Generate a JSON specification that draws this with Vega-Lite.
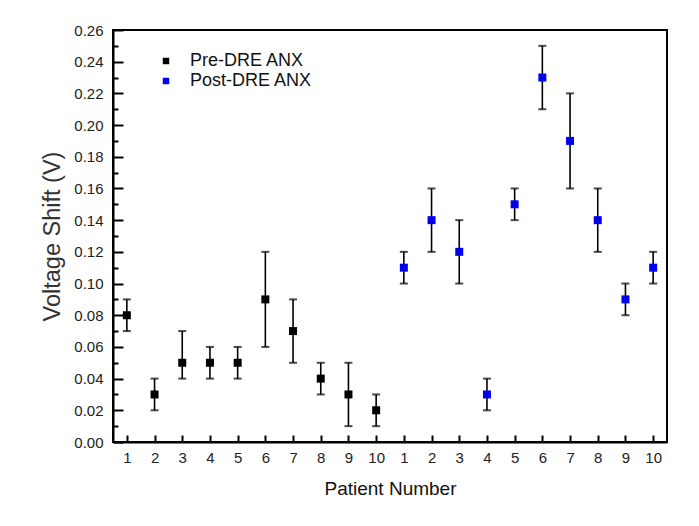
{
  "$schema": "https://vega.github.io/schema/vega-lite/v6.json",
  "width": 554,
  "height": 412,
  "autosize": {"type": "none"},
  "padding": {"left": 113, "top": 30, "right": 32, "bottom": 84},
  "background": "white",
  "config": {
    "font": "Liberation Sans",
    "view": {"stroke": "#000000", "strokeWidth": 2},
    "axis": {"grid": false, "domainColor": "#000000", "domainWidth": 2, "tickColor": "#000000", "tickWidth": 2, "labelFont": "Liberation Sans", "titleFont": "Liberation Sans", "titleFontWeight": "normal"}
  },
  "resolve": {"axis": {"x": "independent", "y": "independent"}},
  "data": {
    "values": [
      {"pos": 1, "series": "Pre-DRE ANX", "v": 0.08, "lo": 0.07, "hi": 0.09},
      {"pos": 2, "series": "Pre-DRE ANX", "v": 0.03, "lo": 0.02, "hi": 0.04},
      {"pos": 3, "series": "Pre-DRE ANX", "v": 0.05, "lo": 0.04, "hi": 0.07},
      {"pos": 4, "series": "Pre-DRE ANX", "v": 0.05, "lo": 0.04, "hi": 0.06},
      {"pos": 5, "series": "Pre-DRE ANX", "v": 0.05, "lo": 0.04, "hi": 0.06},
      {"pos": 6, "series": "Pre-DRE ANX", "v": 0.09, "lo": 0.06, "hi": 0.12},
      {"pos": 7, "series": "Pre-DRE ANX", "v": 0.07, "lo": 0.05, "hi": 0.09},
      {"pos": 8, "series": "Pre-DRE ANX", "v": 0.04, "lo": 0.03, "hi": 0.05},
      {"pos": 9, "series": "Pre-DRE ANX", "v": 0.03, "lo": 0.01, "hi": 0.05},
      {"pos": 10, "series": "Pre-DRE ANX", "v": 0.02, "lo": 0.01, "hi": 0.03},
      {"pos": 11, "series": "Post-DRE ANX", "v": 0.11, "lo": 0.10, "hi": 0.12},
      {"pos": 12, "series": "Post-DRE ANX", "v": 0.14, "lo": 0.12, "hi": 0.16},
      {"pos": 13, "series": "Post-DRE ANX", "v": 0.12, "lo": 0.10, "hi": 0.14},
      {"pos": 14, "series": "Post-DRE ANX", "v": 0.03, "lo": 0.02, "hi": 0.04},
      {"pos": 15, "series": "Post-DRE ANX", "v": 0.15, "lo": 0.14, "hi": 0.16},
      {"pos": 16, "series": "Post-DRE ANX", "v": 0.23, "lo": 0.21, "hi": 0.25},
      {"pos": 17, "series": "Post-DRE ANX", "v": 0.19, "lo": 0.16, "hi": 0.22},
      {"pos": 18, "series": "Post-DRE ANX", "v": 0.14, "lo": 0.12, "hi": 0.16},
      {"pos": 19, "series": "Post-DRE ANX", "v": 0.09, "lo": 0.08, "hi": 0.10},
      {"pos": 20, "series": "Post-DRE ANX", "v": 0.11, "lo": 0.10, "hi": 0.12}
    ]
  },
  "layer": [
    {
      "mark": {"type": "rule", "color": "#000000", "strokeWidth": 1.6},
      "encoding": {
        "x": {
          "field": "pos", "type": "quantitative",
          "scale": {"domain": [0.5, 20.5], "nice": false, "zero": false},
          "axis": {
            "orient": "bottom", "title": "Patient Number", "titleFontSize": 19, "titleColor": "#111111", "titlePadding": 14,
            "values": [1,2,3,4,5,6,7,8,9,10,11,12,13,14,15,16,17,18,19,20],
            "labelExpr": "datum.value > 10 ? datum.value - 10 : datum.value",
            "labelFontSize": 15, "labelColor": "#222222", "labelPadding": 8, "labelOverlap": false,
            "ticks": false
          }
        },
        "y": {
          "field": "lo", "type": "quantitative",
          "scale": {"domain": [0, 0.26], "nice": false},
          "axis": {
            "orient": "left", "title": "Voltage Shift (V)", "titleFontSize": 23.5, "titleColor": "#333333", "titlePadding": 9,
            "values": [0,0.02,0.04,0.06,0.08,0.1,0.12,0.14,0.16,0.18,0.2,0.22,0.24,0.26],
            "format": ".2f",
            "labelFontSize": 15, "labelColor": "#222222", "labelPadding": 10, "labelOverlap": false,
            "ticks": false
          }
        },
        "y2": {"field": "hi"}
      }
    },
    {
      "mark": {"type": "tick", "orient": "horizontal", "color": "#000000", "size": 8, "thickness": 2},
      "encoding": {
        "x": {
          "field": "pos", "type": "quantitative",
          "axis": {
            "orient": "bottom", "offset": -7, "tickSize": 7, "labels": false, "domain": false, "title": null,
            "values": [1,2,3,4,5,6,7,8,9,10,11,12,13,14,15,16,17,18,19,20]
          }
        },
        "y": {
          "field": "lo", "type": "quantitative",
          "axis": {
            "orient": "left", "offset": -5, "tickSize": 5, "labels": false, "domain": false, "title": null,
            "values": [0.01,0.03,0.05,0.07,0.09,0.11,0.13,0.15,0.17,0.19,0.21,0.23,0.25]
          }
        }
      }
    },
    {
      "mark": {"type": "tick", "orient": "horizontal", "color": "#000000", "size": 8, "thickness": 2},
      "encoding": {
        "x": {"field": "pos", "type": "quantitative", "axis": null},
        "y": {
          "field": "hi", "type": "quantitative",
          "axis": {
            "orient": "left", "offset": -10, "tickSize": 10, "labels": false, "domain": false, "title": null,
            "values": [0,0.02,0.04,0.06,0.08,0.1,0.12,0.14,0.16,0.18,0.2,0.22,0.24,0.26]
          }
        }
      }
    },
    {
      "mark": {"type": "point", "shape": "square", "filled": true, "size": 64, "opacity": 1},
      "encoding": {
        "x": {"field": "pos", "type": "quantitative", "axis": null},
        "y": {"field": "v", "type": "quantitative", "axis": null},
        "color": {
          "field": "series", "type": "nominal",
          "scale": {"domain": ["Pre-DRE ANX", "Post-DRE ANX"], "range": ["#000000", "#0000ee"]},
          "legend": {
            "title": null, "orient": "none", "legendX": 44, "legendY": 22,
            "symbolType": "square", "symbolSize": 42, "labelFontSize": 18, "labelColor": "#111111",
            "labelOffset": 15, "rowPadding": 2, "padding": 0
          }
        }
      }
    }
  ]
}
